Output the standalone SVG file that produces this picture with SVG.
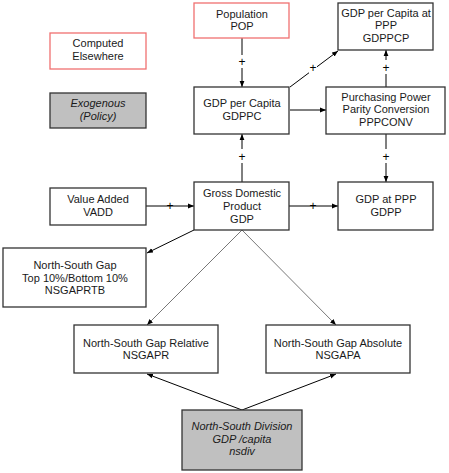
<svg xmlns="http://www.w3.org/2000/svg" width="449" height="473" viewBox="0 0 449 473">
<defs>
<marker id="ah" viewBox="0 0 10 10" refX="10" refY="5" markerWidth="6" markerHeight="6" orient="auto" markerUnits="userSpaceOnUse">
<path d="M0,1 L10,5 L0,9 Z" fill="#000"/>
</marker>
<style>
.box{fill:#fff;stroke:#333;stroke-width:1.3}
.red{fill:#fff;stroke:#f07070;stroke-width:1.3}
.ex{fill:#c0c0c0;stroke:#333;stroke-width:1.3}
text{font-family:"Liberation Sans",Arial,sans-serif;font-size:11px;fill:#1a1a1a;text-anchor:middle}
.it{font-style:italic}
.c{fill:none;stroke:#000;stroke-width:1}
.g{fill:none;stroke:#555;stroke-width:0.8}
.bg{fill:#fff;stroke:none}
.p{font-size:12px;fill:#000}
</style>
</defs>
<rect width="449" height="473" fill="#fff"/>
<g id="connectors">
<line class="c" x1="242" y1="38" x2="242" y2="87" marker-end="url(#ah)"/>
<rect class="bg" x="238" y="55" width="8" height="13"/>
<text class="p" x="242" y="66">+</text>
<line class="c" x1="290" y1="87" x2="338" y2="51" marker-end="url(#ah)"/>
<rect class="bg" x="309" y="63" width="8" height="10"/>
<text class="p" x="313" y="72">+</text>
<line class="c" x1="290" y1="110" x2="326" y2="110" marker-end="url(#ah)"/>
<line class="c" x1="386" y1="87" x2="386" y2="50" marker-end="url(#ah)"/>
<rect class="bg" x="382" y="60" width="8" height="14"/>
<text class="p" x="386" y="72">+</text>
<line class="c" x1="242" y1="182" x2="242" y2="134" marker-end="url(#ah)"/>
<rect class="bg" x="238" y="149" width="8" height="14"/>
<text class="p" x="242" y="161">+</text>
<line class="c" x1="386" y1="134" x2="386" y2="182" marker-end="url(#ah)"/>
<rect class="bg" x="382" y="149" width="8" height="14"/>
<text class="p" x="386" y="161">+</text>
<line class="c" x1="146" y1="206" x2="194" y2="206" marker-end="url(#ah)"/>
<text class="p" x="170" y="210">+</text>
<line class="c" x1="289" y1="206" x2="338" y2="206" marker-end="url(#ah)"/>
<text class="p" x="313" y="210">+</text>
<line class="c" x1="194" y1="230" x2="147" y2="253" marker-end="url(#ah)"/>
<line class="g" x1="242" y1="230" x2="147" y2="325" marker-end="url(#ah)"/>
<line class="g" x1="242" y1="230" x2="336" y2="325" marker-end="url(#ah)"/>
<line class="c" x1="242" y1="410" x2="147" y2="374" marker-end="url(#ah)"/>
<line class="c" x1="242" y1="410" x2="336" y2="374" marker-end="url(#ah)"/>
</g>
<g id="computed">
<rect class="red" x="50" y="33" width="96" height="36"/>
<text x="98" y="47">Computed</text><text x="98" y="60">Elsewhere</text>
</g>
<g id="exogenous">
<rect class="ex" x="50" y="93" width="96" height="35"/>
<text class="it" x="98" y="107">Exogenous</text><text class="it" x="98" y="120">(Policy)</text>
</g>
<g id="pop">
<rect class="red" x="194" y="3" width="95" height="35"/>
<text x="242" y="18">Population</text><text x="242" y="30">POP</text>
</g>
<g id="gdppcp">
<rect class="box" x="338" y="3" width="95" height="47"/>
<text x="386" y="17">GDP per Capita at</text><text x="386" y="29">PPP</text><text x="386" y="42">GDPPCP</text>
</g>
<g id="gdppc">
<rect class="box" x="194" y="87" width="95" height="47"/>
<text x="242" y="107">GDP per Capita</text><text x="242" y="120">GDPPC</text>
</g>
<g id="pppconv">
<rect class="box" x="326" y="87" width="119" height="47"/>
<text x="386" y="101">Purchasing Power</text><text x="386" y="113">Parity Conversion</text><text x="386" y="126">PPPCONV</text>
</g>
<g id="vadd">
<rect class="box" x="50" y="188" width="96" height="37"/>
<text x="98" y="203">Value Added</text><text x="98" y="216">VADD</text>
</g>
<g id="gdp">
<rect class="box" x="194" y="182" width="95" height="48"/>
<text x="242" y="197">Gross Domestic</text><text x="242" y="210">Product</text><text x="242" y="223">GDP</text>
</g>
<g id="gdpp">
<rect class="box" x="338" y="182" width="95" height="48"/>
<text x="386" y="203">GDP at PPP</text><text x="386" y="216">GDPP</text>
</g>
<g id="nsgaprtb">
<rect class="box" x="3" y="248" width="143" height="59"/>
<text x="75" y="269">North-South Gap</text><text x="75" y="282">Top 10%/Bottom 10%</text><text x="75" y="294">NSGAPRTB</text>
</g>
<g id="nsgapr">
<rect class="box" x="74" y="325" width="144" height="48"/>
<text x="146" y="347">North-South Gap Relative</text><text x="146" y="359">NSGAPR</text>
</g>
<g id="nsgapa">
<rect class="box" x="266" y="325" width="144" height="48"/>
<text x="338" y="347">North-South Gap Absolute</text><text x="338" y="359">NSGAPA</text>
</g>
<g id="nsdiv">
<rect class="ex" x="182" y="410" width="120" height="60"/>
<text class="it" x="242" y="430">North-South Division</text><text class="it" x="242" y="443">GDP /capita</text><text class="it" x="242" y="455">nsdiv</text>
</g>
</svg>
